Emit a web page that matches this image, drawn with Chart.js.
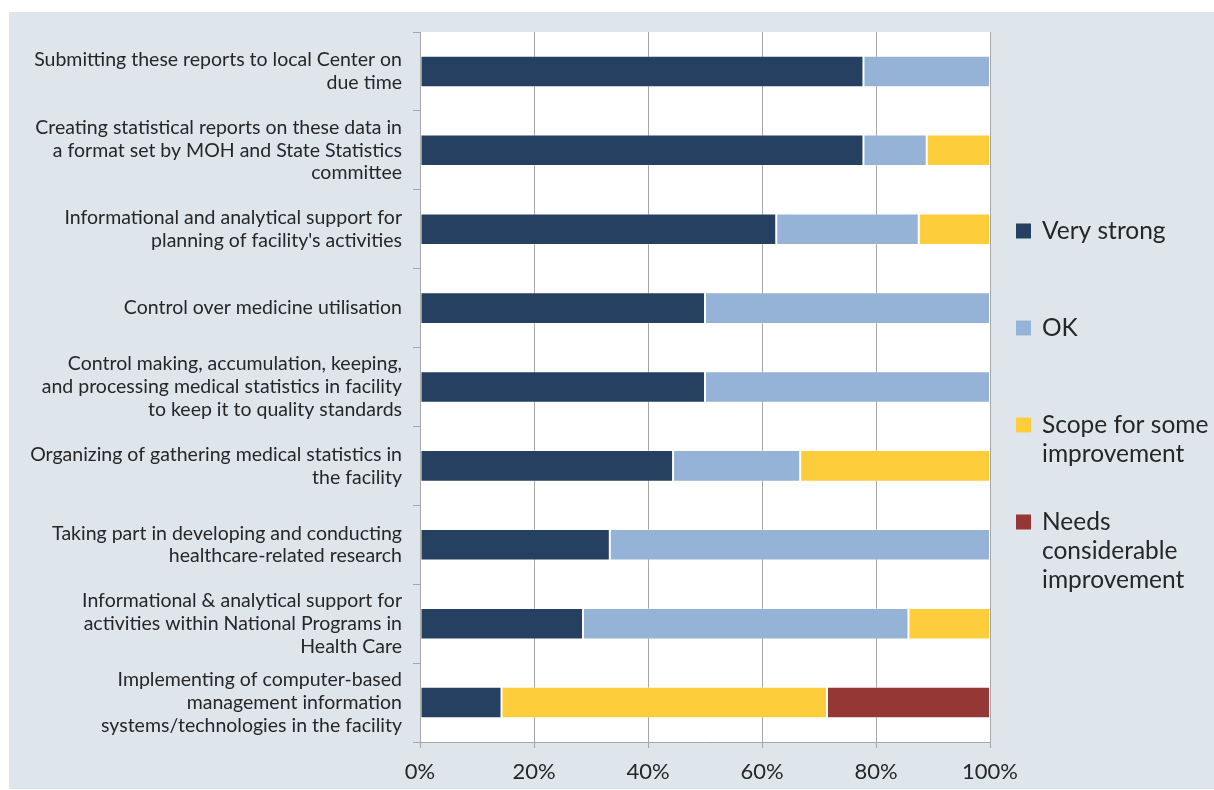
<!DOCTYPE html>
<html lang="en">
<head>
    <meta charset="UTF-8">
    <title>Facility statistics self-assessment</title>
    <script src="https://cdn.jsdelivr.net/npm/chart.js"></script>
    <style>
        html, body {
            margin: 0;
            padding: 0;
            background: #ffffff;
        }
        #wrap {
            width: 1214px;
            height: 790px;
        }
    </style>
</head>
<body>
    <div id="wrap">
        <canvas id="ratingChart" width="1214" height="790"></canvas>
    </div>

    <script>
        // Activities (top to bottom), each as wrapped lines
        const activities = [
            ['Submitting these reports to local Center on', 'due time'],
            ['Creating statistical reports on these data in', 'a format set by MOH and State Statistics', 'committee'],
            ['Informational and analytical support for', "planning of facility's activities"],
            ['Control over medicine utilisation'],
            ['Control making, accumulation, keeping,', 'and processing medical statistics in facility', 'to keep it to quality standards'],
            ['Organizing of gathering medical statistics in', 'the facility'],
            ['Taking part in developing and conducting', 'healthcare-related research'],
            ['Informational & analytical support for', 'activities within National Programs in', 'Health Care'],
            ['Implementing of computer-based', 'management information', 'systems/technologies in the facility']
        ];

        // Share of respondents (%) per rating
        const veryStrong = [77.8, 77.8, 62.5, 50, 50, 44.4, 33.3, 28.6, 14.3];
        const ok = [22.2, 11.1, 25, 50, 50, 22.3, 66.7, 57.1, 0];
        const someImprovement = [0, 11.1, 12.5, 0, 0, 33.3, 0, 14.3, 57.1];
        const considerableImprovement = [0, 0, 0, 0, 0, 0, 0, 0, 28.6];

        const ratingNames = ['Very strong', 'OK', 'Scope for some improvement', 'Needs considerable improvement'];
        const legendLines = [
            ['Very strong'],
            ['OK'],
            ['Scope for some', 'improvement'],
            ['Needs', 'considerable', 'improvement']
        ];
        const xTicks = [0, 20, 40, 60, 80, 100];

        const colors = ['#254061', '#95b3d7', '#fdcd3c', '#953735'];
        const textColor = '#262626';
        const fontFamily = 'Lato, "Open Sans", sans-serif';

        // grey-blue panel behind everything, white plot area
        const panelPlugin = {
            id: 'panel',
            beforeDraw(chart) {
                const c = chart.ctx;
                const a = chart.chartArea;
                c.save();
                c.fillStyle = '#ffffff';
                c.fillRect(0, 0, chart.width, chart.height);
                c.fillStyle = '#dee6ec';
                c.fillRect(9, 12, chart.width - 9, chart.height - 13);
                c.fillStyle = '#ffffff';
                c.fillRect(a.left, a.top, a.right - a.left, a.bottom - a.top);
                c.restore();
            }
        };

        // legend on the right with wrapped entries
        const sideLegend = {
            id: 'sideLegend',
            afterDraw(chart) {
                const c = chart.ctx;
                const x = chart.chartArea.right + 26;
                const y0 = 231;
                const step = 97;
                const lineGap = 29;
                c.save();
                c.font = '24.5px ' + fontFamily;
                c.textBaseline = 'middle';
                c.textAlign = 'left';
                chart.data.datasets.forEach((ds, i) => {
                    const y = y0 + i * step;
                    c.fillStyle = ds.backgroundColor;
                    c.fillRect(x, y - 7.5, 15, 15);
                    c.fillStyle = textColor;
                    legendLines[i].forEach((line, j) => {
                        c.fillText(line, x + 26, y + j * lineGap);
                    });
                });
                c.restore();
            }
        };

        const series = [veryStrong, ok, someImprovement, considerableImprovement];

        new Chart(document.getElementById('ratingChart'), {
            type: 'bar',
            data: {
                labels: activities,
                datasets: series.map((values, i) => ({
                    label: ratingNames[i],
                    data: values,
                    backgroundColor: colors[i],
                    borderColor: 'rgba(255,255,255,0.35)',
                    borderWidth: 1,
                    borderSkipped: false,
                    categoryPercentage: 1,
                    barPercentage: 0.4
                }))
            },
            options: {
                indexAxis: 'y',
                responsive: false,
                animation: false,
                layout: {
                    padding: { top: 32, right: 224, bottom: 0, left: 0 }
                },
                plugins: {
                    legend: { display: false },
                    tooltip: { enabled: false }
                },
                scales: {
                    x: {
                        stacked: true,
                        min: 0,
                        max: 100,
                        afterBuildTicks(scale) {
                            scale.ticks = xTicks.map(v => ({ value: v }));
                        },
                        afterFit(scale) {
                            scale.height = 48;
                        },
                        grid: {
                            color: '#a6a6a6',
                            lineWidth: 1,
                            tickLength: 6
                        },
                        border: { color: '#a6a6a6' },
                        ticks: {
                            color: textColor,
                            padding: 11,
                            font: { family: fontFamily, size: 22 },
                            callback: v => v + '%'
                        }
                    },
                    y: {
                        stacked: true,
                        afterFit(scale) {
                            // labels sit inside their bands, no extra room needed above/below
                            scale.width = 420;
                            scale.paddingTop = 0;
                            scale.paddingBottom = 0;
                        },
                        grid: {
                            offset: true,
                            drawOnChartArea: false,
                            color: '#a6a6a6',
                            tickLength: 7
                        },
                        border: { color: '#a6a6a6' },
                        ticks: {
                            color: textColor,
                            padding: 11,
                            font: { family: fontFamily, size: 19.5, lineHeight: 1.17 }
                        }
                    }
                }
            },
            plugins: [panelPlugin, sideLegend]
        });
    </script>
</body>
</html>
